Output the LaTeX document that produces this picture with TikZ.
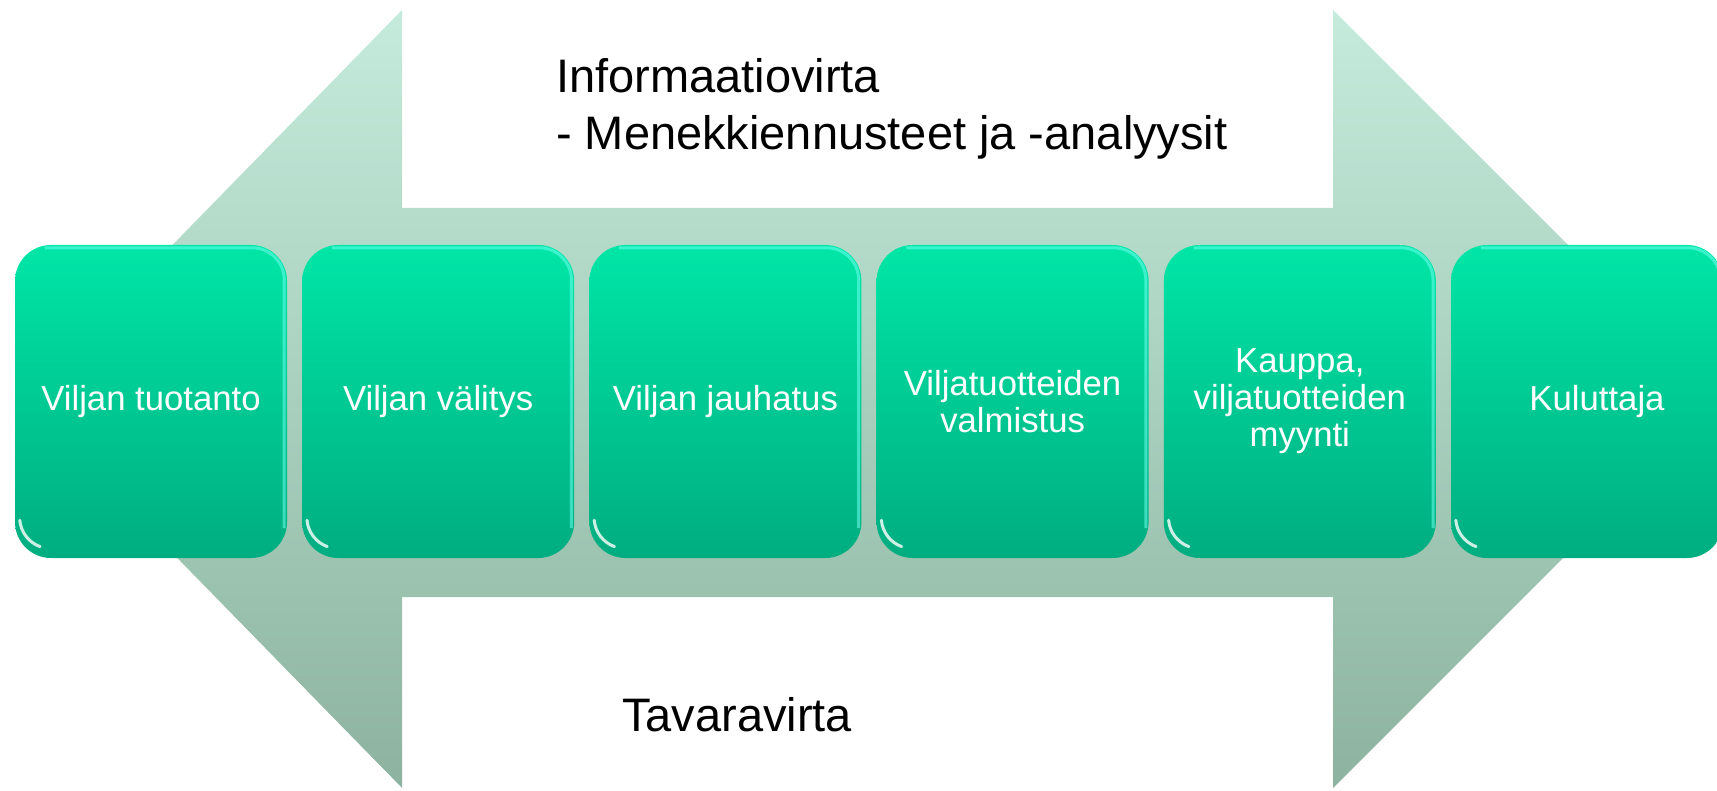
\documentclass[tikz,border=0pt]{standalone}
\usepackage{fontspec}
\setmainfont{Liberation Sans}
\definecolor{arrtop}{HTML}{C4EBDB}
\definecolor{arrbot}{HTML}{8DB3A0}
\definecolor{boxtop}{HTML}{00E6A7}
\definecolor{boxmid}{HTML}{00D196}
\definecolor{boxbot}{HTML}{00AD80}
\definecolor{rimcol}{HTML}{6CFFEE}
\begin{document}
\begin{tikzpicture}[x=1pt,y=-1pt,
  stepbox/.style={rounded corners=36pt, minimum width=272pt, minimum height=313pt,
    inner sep=0pt, top color=boxtop, middle color=boxmid, bottom color=boxbot,
    text=white, align=center, font=\fontsize{34.7}{37}\selectfont},
  rim/.style={draw=rimcol, line width=3pt, opacity=0.55, rounded corners=32pt},
  gloss/.style={draw=white, line width=3pt, opacity=0.8, line cap=round},
  hdr/.style={anchor=base west, inner sep=0pt, text=black, font=\fontsize{47}{57}\selectfont}]
\useasboundingbox (0,0) rectangle (1717,791);
\clip (0,0) rectangle (1717,791);
% double arrow
\path[top color=arrtop, bottom color=arrbot]
  (22,399) -- (402,10) -- (402,208) -- (1333,208) -- (1333,10) -- (1722,399)
  -- (1333,788) -- (1333,597) -- (402,597) -- (402,788) -- cycle;
\draw[white, line width=1.2pt, opacity=0.7] (178,562) -- (400,787);
% boxes
\node[stepbox] (b1) at (151,401.5) {Viljan tuotanto};
\node[stepbox] (b2) at (438.2,401.5) {Viljan välitys};
\node[stepbox] (b3) at (725.4,401.5) {Viljan jauhatus};
\node[stepbox] (b4) at (1012.6,401.5) {Viljatuotteiden\\valmistus};
\node[stepbox] (b5) at (1299.8,401.5) {Kauppa,\\viljatuotteiden\\myynti};
\node[stepbox] (b6) at (1587,401.5) {\hspace*{20pt}Kuluttaja};
\foreach \b in {b1,b2,b3,b4,b5,b6}{
  \draw[rim] ([xshift=30pt,yshift=-3pt]\b.north west) -- ([xshift=-3pt,yshift=-3pt]\b.north east)
    -- ([xshift=-3pt,yshift=30pt]\b.south east);
  \draw[gloss] ([xshift=5pt,yshift=38pt]\b.south west)
    arc[start angle=185, end angle=250, radius=31pt];
}
% texts
\node[hdr] (info1) at (556,93) {Informaatiovirta};
\node[hdr] (info2) at (556,150) {- Menekkiennusteet ja -analyysit};
\node[hdr] (tav) at (622,731) {Tavaravirta};
\end{tikzpicture}
\end{document}
